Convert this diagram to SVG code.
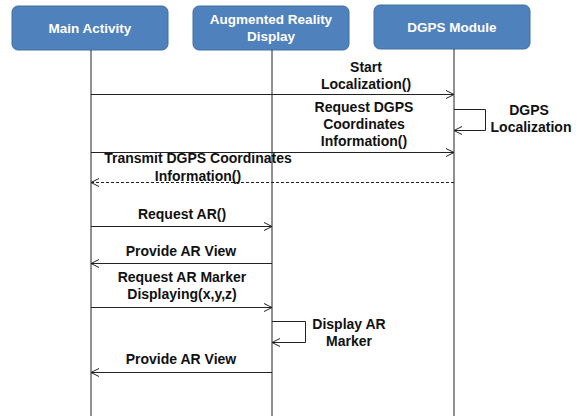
<svg xmlns="http://www.w3.org/2000/svg" width="582" height="416" viewBox="0 0 582 416">
<style>
.box{fill:#4f81bd;stroke:#41709f;stroke-width:1}
.bt{font-family:"Liberation Sans",Arial,sans-serif;font-weight:bold;font-size:13.5px;fill:#ffffff;text-anchor:middle}
.life{stroke:#222;stroke-width:1;fill:none}
.msg{stroke:#222;stroke-width:1;fill:none}
.dash{stroke-dasharray:3,2}
.t{font-family:"Liberation Sans",Arial,sans-serif;font-weight:bold;font-size:14px;fill:#111;text-anchor:middle}
</style>
<defs>
<marker id="ah" markerUnits="userSpaceOnUse" markerWidth="10" markerHeight="10" refX="9" refY="5" orient="auto">
<path d="M1,1 L9,5 L1,9" fill="none" stroke="#222" stroke-width="1"/>
</marker>
</defs>
<rect width="582" height="416" fill="#ffffff"/>
<g id="main-activity">
<rect class="box" x="12" y="6" width="156" height="44" rx="6"/>
<text class="bt" x="90" y="33">Main Activity</text>
</g>
<g id="ar-display">
<rect class="box" x="193" y="6" width="156" height="44" rx="6"/>
<text class="bt" x="271" y="24">Augmented  Reality</text>
<text class="bt" x="271" y="41">Display</text>
</g>
<g id="dgps-module">
<rect class="box" x="374" y="5" width="156" height="44" rx="6"/>
<text class="bt" x="452" y="32">DGPS  Module</text>
</g>
<g id="lifelines">
<line class="life" x1="91" y1="50" x2="91" y2="416"/>
<line class="life" x1="272" y1="50" x2="272" y2="416"/>
<line class="life" x1="454" y1="49" x2="454" y2="416"/>
</g>
<g id="connectors">
<line class="msg" x1="91" y1="94.5" x2="454" y2="94.5" marker-end="url(#ah)"/>
<line class="msg" x1="91" y1="152.5" x2="454" y2="152.5" marker-end="url(#ah)"/>
<polyline class="msg" points="454,109.5 485.5,109.5 485.5,130.5 454,130.5" marker-end="url(#ah)"/>
<line class="msg dash" x1="454" y1="182.5" x2="91" y2="182.5" marker-end="url(#ah)"/>
<line class="msg" x1="91" y1="226.5" x2="272" y2="226.5" marker-end="url(#ah)"/>
<line class="msg" x1="272" y1="263.5" x2="91" y2="263.5" marker-end="url(#ah)"/>
<line class="msg" x1="91" y1="307.5" x2="272" y2="307.5" marker-end="url(#ah)"/>
<polyline class="msg" points="272,321.5 305.5,321.5 305.5,342.5 272,342.5" marker-end="url(#ah)"/>
<line class="msg" x1="272" y1="372.5" x2="91" y2="372.5" marker-end="url(#ah)"/>
</g>
<g id="labels">
<text class="t" x="366" y="72">Start</text>
<text class="t" x="366" y="89">Localization()</text>
<text class="t" x="364" y="112">Request DGPS</text>
<text class="t" x="364" y="129">Coordinates</text>
<text class="t" x="364" y="146">Information()</text>
<text class="t" x="529" y="115">DGPS</text>
<text class="t" x="531" y="132">Localization</text>
<text class="t" x="198" y="163">Transmit DGPS  Coordinates</text>
<text class="t" x="198" y="180.5">Information()</text>
<text class="t" x="182" y="219">Request AR()</text>
<text class="t" x="181" y="256">Provide AR View</text>
<text class="t" x="182" y="282">Request AR Marker</text>
<text class="t" x="182" y="299">Displaying(x,y,z)</text>
<text class="t" x="349" y="329">Display AR</text>
<text class="t" x="349" y="346">Marker</text>
<text class="t" x="181" y="364">Provide AR View</text>
</g>
</svg>
